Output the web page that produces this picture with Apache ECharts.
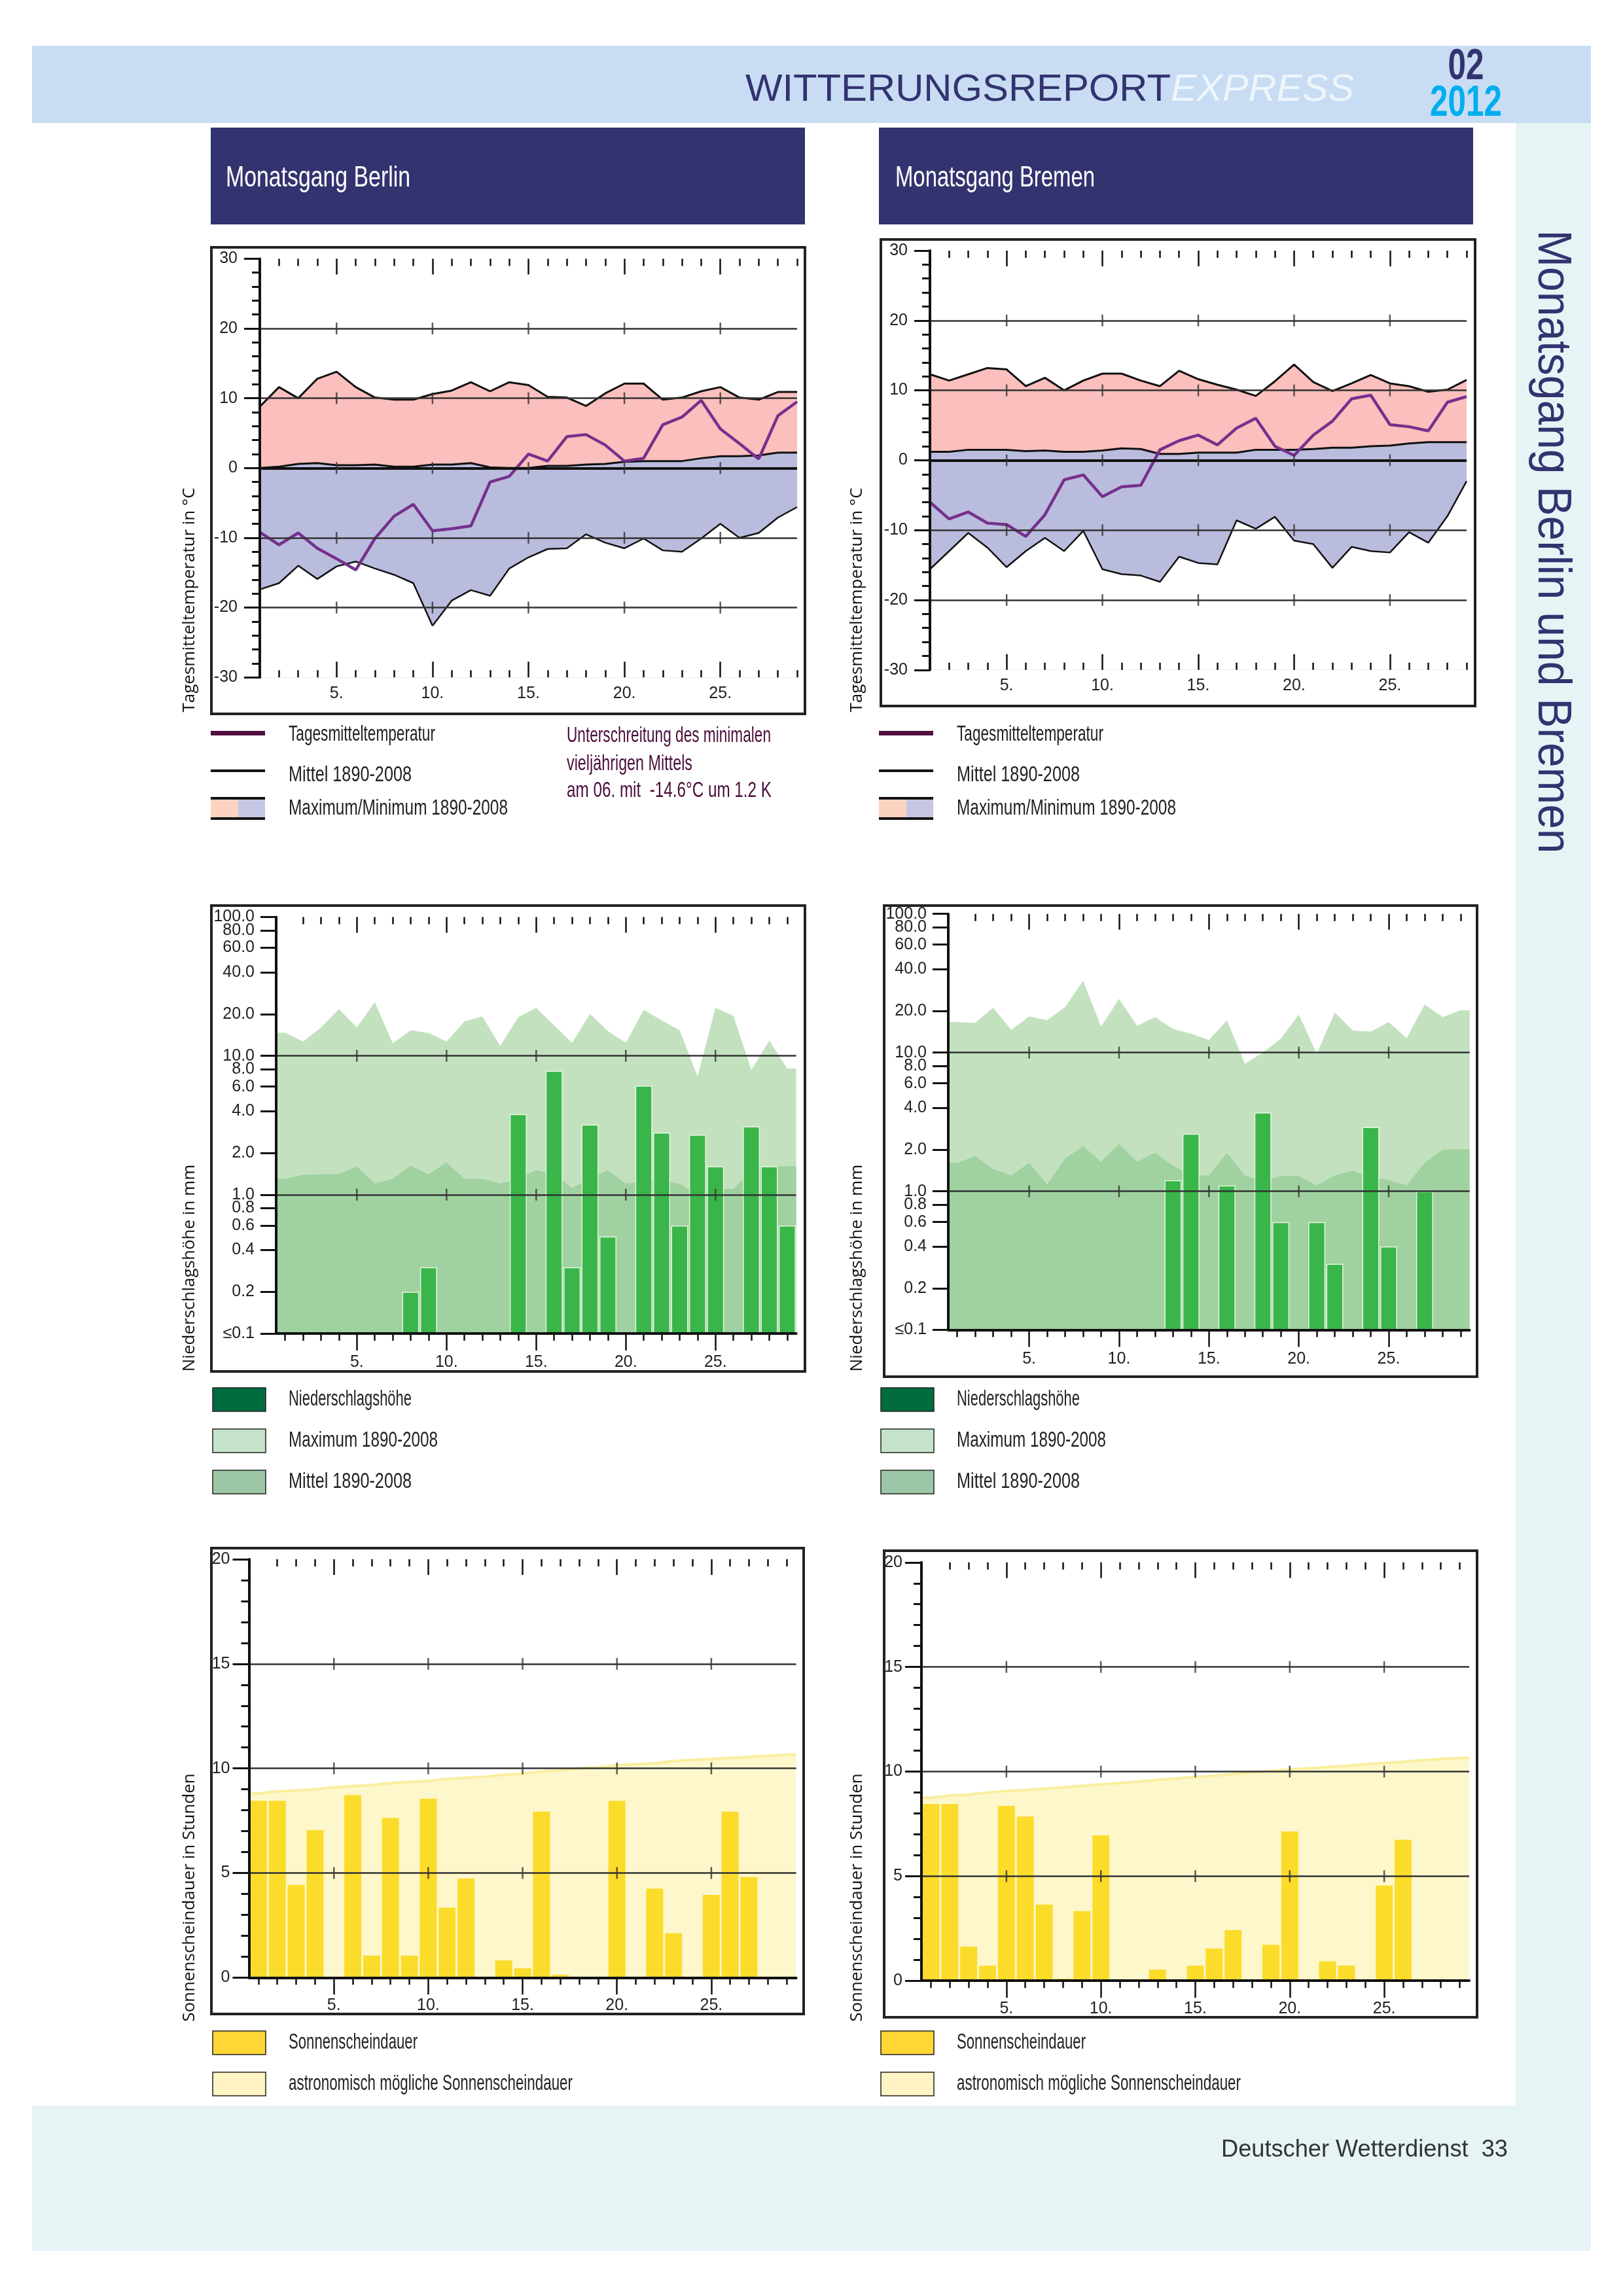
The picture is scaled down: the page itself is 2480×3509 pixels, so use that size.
<!DOCTYPE html>
<html>
<head>
<meta charset="utf-8">
<title>Witterungsreport Express 02/2012</title>
<script src="https://cdn.jsdelivr.net/npm/echarts@6/dist/echarts.min.js"></script>
<style>
html, body { margin: 0; padding: 0; background: #fff; }
#main { width: 2480px; height: 3509px; }
</style>
</head>
<body>
<div id="main"></div>
<script>
// Tageswerte Februar 2012, Tag 1 bis 29
var days = [1,2,3,4,5,6,7,8,9,10,11,12,13,14,15,16,17,18,19,20,21,22,23,24,25,26,27,28,29];
var fiveDays = [5,10,15,20,25];

// Berlin Temperatur
var berlinTempMax = [8.8,11.6,10,12.8,13.8,11.6,10.1,9.8,9.8,10.6,11.1,12.3,11,12.3,11.9,10.2,10.1,8.9,10.7,12.1,12.1,9.8,10.1,11,11.6,10.1,9.8,10.9,10.9];
var berlinTempMean = [0,0.2,0.6,0.7,0.4,0.4,0.5,0.2,0.2,0.5,0.5,0.7,0.1,0,0,0.3,0.3,0.5,0.6,0.9,1,1,1,1.4,1.7,1.7,1.8,2.2,2.2];
var berlinTempMin = [-17.4,-16.5,-14,-15.9,-14.1,-13.4,-14.4,-15.3,-16.5,-22.6,-19,-17.5,-18.3,-14.4,-12.8,-11.6,-11.5,-9.5,-10.7,-11.5,-10.1,-11.8,-12,-10.1,-8,-10,-9.3,-7.1,-5.6];
var berlinTempDay = [-9.2,-11,-9.3,-11.5,-13,-14.6,-10.1,-6.9,-5.2,-9,-8.7,-8.3,-2,-1.2,2,1,4.5,4.8,3.3,1,1.4,6.2,7.3,9.7,5.6,3.5,1.3,7.5,9.5];

// Bremen Temperatur
var bremenTempMax = [12.3,11.4,12.3,13.2,13,10.6,11.8,10,11.4,12.4,12.4,11.4,10.6,12.8,11.6,10.8,10.1,9.2,11.3,13.7,11.2,9.9,11,12.2,11,10.6,9.8,10.1,11.5];
var bremenTempMean = [1.2,1.2,1.5,1.5,1.5,1.3,1.4,1.2,1.2,1.4,1.7,1.6,0.9,0.9,1.1,1.1,1.1,1.5,1.5,1.5,1.6,1.8,1.8,2,2.1,2.4,2.6,2.6,2.6];
var bremenTempMin = [-15.6,-13,-10.4,-12.5,-15.3,-13,-11.1,-13,-10.1,-15.6,-16.3,-16.5,-17.4,-13.8,-14.7,-14.9,-8.6,-9.8,-8.1,-11.5,-12,-15.4,-12.4,-13,-13.2,-10.3,-11.8,-8,-3];
var bremenTempDay = [-6,-8.4,-7.4,-9,-9.2,-10.9,-7.8,-2.8,-2.1,-5.2,-3.8,-3.6,1.5,2.8,3.6,2.2,4.6,6,2,0.7,3.6,5.6,8.8,9.3,5.1,4.8,4.2,8.3,9.1];

// Niederschlag
var berlinRainMax = [14.7,12.7,16,21.7,16,24.3,12.3,15.3,14.6,12.7,17.7,19.2,11.8,19,22.1,16.6,12.4,20,15.1,12.4,21.5,18,15.3,7.1,22.2,19.4,7.9,12.9,8.1];
var berlinRainMean = [1.3,1.39,1.4,1.4,1.6,1.2,1.3,1.62,1.4,1.71,1.3,1.3,1.2,1.3,1.5,1.4,1.12,1.3,1.5,1.2,1.25,1.25,1.2,1,1.1,1.1,1.5,1.6,1.6];
var berlinRain = [null,null,null,null,null,null,null,0.2,0.3,null,null,null,null,3.8,null,7.8,0.3,3.2,0.5,null,6.1,2.8,0.6,2.7,1.6,null,3.1,1.6,0.6];
var bremenRainMax = [16.6,16.4,21,14.6,18.2,17.1,21.3,32.9,15.4,24.4,15.6,18,14.8,13.7,12.3,17.1,8.3,10,12.6,18.8,9.8,19.5,14.4,14.2,16.6,12.7,22.2,18,20.2];
var bremenRainMean = [1.6,1.79,1.45,1.3,1.6,1.12,1.72,2.12,1.63,2.2,1.63,1.89,1.53,1.3,1.3,1.89,1.3,1.18,1.29,1.29,1.1,1.3,1.41,1.27,1.2,1.1,1.6,2,2];
var bremenRain = [null,null,null,null,null,null,null,null,null,null,null,null,1.2,2.6,null,1.1,null,3.7,0.6,null,0.6,0.3,null,2.9,0.4,null,1,null,null];
var rainTicks = [0.1,0.2,0.4,0.6,0.8,1,2,4,6,8,10,20,40,60,80];
var rainTopTick = [100];

// Sonnenschein
var berlinSunAstro = [8.8,8.9,8.95,9.0,9.1,9.15,9.2,9.3,9.35,9.4,9.5,9.55,9.6,9.7,9.75,9.85,9.9,10,10.05,10.15,10.2,10.25,10.35,10.4,10.45,10.5,10.55,10.6,10.65];
var berlinSun = [8.45,8.45,4.43,7.05,0,8.72,1.05,7.63,1.05,8.55,3.34,4.73,0,0.82,0.44,7.93,0.13,0,0,8.45,0,4.25,2.12,0,3.95,7.93,4.8,0,0];
var bremenSunAstro = [8.75,8.85,8.9,9.0,9.08,9.12,9.18,9.25,9.32,9.39,9.45,9.52,9.6,9.67,9.74,9.8,9.88,9.95,10.03,10.1,10.16,10.22,10.28,10.35,10.41,10.47,10.54,10.6,10.65];
var bremenSun = [8.45,8.45,1.63,0.72,8.36,7.85,3.64,0.1,3.33,6.95,0,0,0.53,0,0.72,1.54,2.42,0,1.72,7.14,0,0.93,0.73,0,4.55,6.74,0,0,0];

var sans = '"Liberation Sans"';
var grids = [], xAxes = [], yAxes = [], extraYAxes = [], seriesList = [], graphics = [];
var measureCtx = document.createElement('canvas').getContext('2d');

function addRect(x, y, w, h, fill, stroke, lineWidth) {
	graphics.push({
		type: 'rect', silent: true,
		shape: { x: x, y: y, width: w, height: h },
		style: { fill: fill, stroke: stroke || null, lineWidth: lineWidth || 0 }
	});
}

// width: Zielbreite, die Schrift des Originals ist schmaler als alle installierten
function addText(x, y, text, font, color, width, rot, align) {
	measureCtx.font = font;
	graphics.push({
		type: 'text', silent: true,
		x: x, y: y, rotation: rot || 0,
		scaleX: width ? width / measureCtx.measureText(text).width : 1,
		style: { text: text, x: 0, y: 0, font: font, fill: color, align: align || 'left', verticalAlign: 'middle' }
	});
}

function pairs(values) {
	return days.map(function(d, i) { return [d, values[i]]; });
}

// Flaeche reicht bis an den Rand des Diagramms (Tag 0.5 und 29.5)
function edgePairs(values) {
	return [[0.5, values[0]]].concat(pairs(values), [[29.5, values[values.length - 1]]]);
}

// Kreuzmarken auf den Gitterlinien
function crossPairs(levels) {
	var out = [];
	levels.forEach(function(l) {
		fiveDays.forEach(function(d) { out.push([d, l]); });
	});
	return out;
}

// Ein Gitter mit den vier Zeitachsen oben und unten
function addGrid(g, xMin, xMax, bottomInside, showLine, labelMargin) {
	var gi = grids.length;
	grids.push({ left: g.x0, top: g.yTop, width: g.x1 - g.x0, height: g.yBottom - g.yTop, containLabel: false });
	var base = { type: 'value', gridIndex: gi, min: xMin, max: xMax, splitLine: { show: false }, z: 6 };
	var tickStyle = { color: '#111', width: 2.5 };
	var smallDays = days.filter(function(d) { return fiveDays.indexOf(d) < 0 && d > 1; });
	var firstX = xAxes.length;
	xAxes.push(Object.assign({}, base, {
		position: 'bottom',
		axisLine: { show: showLine, onZero: false, lineStyle: { color: '#111', width: 4 } },
		axisTick: { show: true, inside: bottomInside, length: 11, customValues: bottomInside ? smallDays : days, lineStyle: tickStyle },
		axisLabel: { show: false }
	}));
	xAxes.push(Object.assign({}, base, {
		position: 'bottom',
		axisLine: { show: false, onZero: false },
		axisTick: { show: true, inside: bottomInside, length: bottomInside ? 24 : 26, customValues: fiveDays, lineStyle: tickStyle },
		axisLabel: {
			show: true, customValues: fiveDays, margin: labelMargin,
			fontFamily: sans, fontSize: 25, color: '#222',
			formatter: function(v) { return v + '.'; }
		}
	}));
	xAxes.push(Object.assign({}, base, {
		position: 'top',
		axisLine: { show: false, onZero: false },
		axisTick: { show: true, inside: true, length: 11, customValues: smallDays, lineStyle: tickStyle },
		axisLabel: { show: false }
	}));
	xAxes.push(Object.assign({}, base, {
		position: 'top',
		axisLine: { show: false, onZero: false },
		axisTick: { show: true, inside: true, length: 24, customValues: fiveDays, lineStyle: tickStyle },
		axisLabel: { show: false }
	}));
	return { gridIndex: gi, xIndex: firstX };
}

function levelLines(levels, heavy) {
	return {
		silent: true, symbol: 'none', animation: false, label: { show: false },
		lineStyle: { color: '#333', width: 2.5, type: 'solid' },
		data: levels.map(function(l) {
			return l === heavy ? { yAxis: l, lineStyle: { color: '#111', width: 4, type: 'solid' } } : { yAxis: l };
		})
	};
}

function crossSeries(ax, levels) {
	return {
		type: 'scatter', xAxisIndex: ax.xIndex, yAxisIndex: ax.gridIndex, silent: true,
		symbol: 'rect', symbolSize: [2.5, 18], itemStyle: { color: '#333' },
		data: crossPairs(levels), z: 5
	};
}

function areaLine(ax, name, data, lineColor, lineWidth, fill) {
	return {
		name: name, type: 'line', xAxisIndex: ax.xIndex, yAxisIndex: ax.gridIndex,
		showSymbol: false, symbol: 'none', data: data, silent: true,
		lineStyle: lineColor ? { color: lineColor, width: lineWidth } : { width: 0 },
		areaStyle: { color: fill, opacity: 1, origin: 'start' }
	};
}

function axisLabelStyle(margin) {
	return { margin: margin, fontFamily: sans, fontSize: 25, color: '#222' };
}

function addTempChart(g, maxV, meanV, minV, dayV) {
	var ax = addGrid(g, 1, 29, true, false, 12);
	yAxes.push({
		type: 'value', gridIndex: ax.gridIndex, min: -30, max: 30, interval: 10, z: 6,
		axisLine: { show: true, onZero: false, lineStyle: { color: '#111', width: 4 } },
		axisTick: { show: true, length: 24, lineStyle: { color: '#111', width: 3 } },
		minorTick: { show: true, splitNumber: 5, length: 12, lineStyle: { color: '#111', width: 3 } },
		splitLine: { show: false },
		axisLabel: axisLabelStyle(34)
	});
	seriesList.push(areaLine(ax, 'Maximum 1890-2008', pairs(maxV), '#111', 3, '#fbbfbd'));
	seriesList.push(areaLine(ax, 'Mittel 1890-2008', pairs(meanV), '#111', 3, '#babcdd'));
	seriesList.push(areaLine(ax, 'Minimum 1890-2008', pairs(minV), '#111', 2.5, '#ffffff'));
	seriesList.push({
		name: 'Tagesmitteltemperatur', type: 'line', xAxisIndex: ax.xIndex, yAxisIndex: ax.gridIndex,
		showSymbol: false, symbol: 'none', silent: true, data: pairs(dayV), z: 4,
		lineStyle: { color: '#76308c', width: 4.5 },
		markLine: levelLines([20, 10, 0, -10, -20], 0)
	});
	seriesList.push(crossSeries(ax, [20, 10, 0, -10, -20]));
}

function rainLabel(v) {
	return v <= 0.1 ? '≤0.1' : Number(v).toFixed(1);
}

function addRainChart(g, maxV, meanV, barV) {
	var ax = addGrid(g, 0.5, 29.5, false, true, 32);
	yAxes.push({
		type: 'log', gridIndex: ax.gridIndex, logBase: 10, min: 0.1, max: 100, startValue: 0.1, z: 6,
		position: 'left',
		axisLine: { show: true, onZero: false, lineStyle: { color: '#111', width: 4 } },
		axisTick: { show: true, length: 24, customValues: rainTicks, lineStyle: { color: '#111', width: 3 } },
		minorTick: { show: false }, splitLine: { show: false },
		axisLabel: Object.assign(axisLabelStyle(33), { customValues: rainTicks, formatter: rainLabel })
	});
	// 100.0 und 80.0 ueberlappen, auf einer Achse wuerde ECharts eins davon ausblenden
	extraYAxes.push({
		type: 'log', gridIndex: ax.gridIndex, logBase: 10, min: 0.1, max: 100, z: 6,
		position: 'left',
		axisLine: { show: false, onZero: false },
		axisTick: { show: true, length: 24, customValues: rainTopTick, lineStyle: { color: '#111', width: 3 } },
		minorTick: { show: false }, splitLine: { show: false },
		axisLabel: Object.assign(axisLabelStyle(33), { customValues: rainTopTick, formatter: rainLabel })
	});
	seriesList.push(areaLine(ax, 'Maximum 1890-2008', edgePairs(maxV), null, 0, '#c3e1bf'));
	seriesList.push(areaLine(ax, 'Mittel 1890-2008', edgePairs(meanV), null, 0, '#a0d1a0'));
	seriesList.push({
		name: 'Niederschlagshöhe', type: 'bar', xAxisIndex: ax.xIndex, yAxisIndex: ax.gridIndex, silent: true,
		barWidth: 26, data: pairs(barV).filter(function(p) { return p[1] !== null; }), z: 3,
		itemStyle: { color: '#39b54a', borderColor: '#e6f5dc', borderWidth: 1.5 },
		markLine: levelLines([10, 1], null)
	});
	seriesList.push(crossSeries(ax, [10, 1]));
}

function addSunChart(g, astroV, barV) {
	var ax = addGrid(g, 0.5, 29.5, false, true, 30);
	yAxes.push({
		type: 'value', gridIndex: ax.gridIndex, min: 0, max: 20, interval: 5, z: 6,
		axisLine: { show: true, onZero: false, lineStyle: { color: '#111', width: 4 } },
		axisTick: { show: true, length: 25, lineStyle: { color: '#111', width: 3 } },
		minorTick: { show: true, splitNumber: 5, length: 12, lineStyle: { color: '#111', width: 3 } },
		splitLine: { show: false },
		axisLabel: axisLabelStyle(29)
	});
	seriesList.push(areaLine(ax, 'astronomisch mögliche Sonnenscheindauer', edgePairs(astroV), '#f9ee9e', 4, '#fdf7cb'));
	seriesList.push({
		name: 'Sonnenscheindauer', type: 'bar', xAxisIndex: ax.xIndex, yAxisIndex: ax.gridIndex, silent: true,
		barWidth: 26, data: pairs(barV), z: 3,
		itemStyle: { color: '#fcdc2a' },
		markLine: levelLines([15, 10, 5], null)
	});
	seriesList.push(crossSeries(ax, [15, 10, 5]));
}

// Seitenrahmen
addRect(49, 70, 2382, 118, '#c8ddf3');
addRect(2316, 188, 115, 3030, '#e6f4f6');
addRect(49, 3218, 2382, 222, '#e6f4f6');
addText(1139, 138, 'WITTERUNGSREPORT', '57px ' + sans, '#33336f', 650);
addText(1789, 138, 'EXPRESS', 'italic 57px ' + sans, '#eef5fc', 280);
addText(2240, 103, '02', 'bold 66px ' + sans, '#33336f', 55, 0, 'center');
addText(2240, 159, '2012', 'bold 66px ' + sans, '#00aeef', 110, 0, 'center');
addText(2371, 828, 'Monatsgang Berlin und Bremen', '72px ' + sans, '#33336f', 953, -Math.PI / 2, 'center');
addText(2304, 3286, 'Deutscher Wetterdienst  33', '37px ' + sans, '#333', 438, 0, 'right');

addRect(322, 195, 908, 148, '#33336f');
addRect(1343, 195, 908, 148, '#33336f');
addText(345, 273, 'Monatsgang Berlin', '44px ' + sans, '#fff', 282);
addText(1368, 273, 'Monatsgang Bremen', '44px ' + sans, '#fff', 305);

// Rahmen der sechs Diagramme
addRect(323, 378, 907, 713, '#fff', '#222', 4);
addRect(1346, 366, 908, 713, '#fff', '#222', 4);
addRect(323, 1384, 907, 712, '#fff', '#222', 4);
addRect(1351, 1384, 906, 720, '#fff', '#222', 4);
addRect(323, 2366, 905, 712, '#fff', '#222', 4);
addRect(1351, 2370, 906, 713, '#fff', '#222', 4);

// Achsentitel
var titleFont = '26px "Open Sans"';
addText(290, 917, 'Tagesmitteltemperatur in °C', titleFont, '#111', 0, Math.PI / 2, 'center');
addText(1310, 917, 'Tagesmitteltemperatur in °C', titleFont, '#111', 0, Math.PI / 2, 'center');
addText(290, 1938, 'Niederschlagshöhe in mm', titleFont, '#111', 0, Math.PI / 2, 'center');
addText(1310, 1938, 'Niederschlagshöhe in mm', titleFont, '#111', 0, Math.PI / 2, 'center');
addText(290, 2900, 'Sonnenscheindauer in Stunden', titleFont, '#111', 0, Math.PI / 2, 'center');
addText(1310, 2900, 'Sonnenscheindauer in Stunden', titleFont, '#111', 0, Math.PI / 2, 'center');

// Legenden
var legendFont = '33px ' + sans;
[0, 1021].forEach(function(dx) {
	addRect(322 + dx, 1117, 83, 7, '#520f3f');
	addText(441 + dx, 1123, 'Tagesmitteltemperatur', legendFont, '#222', 224);
	addRect(322 + dx, 1176, 83, 4, '#111');
	addText(441 + dx, 1185, 'Mittel 1890-2008', legendFont, '#222', 188);
	addRect(322 + dx, 1218, 42, 35, '#fcd3c1');
	addRect(364 + dx, 1218, 41, 35, '#c5c6e3');
	addRect(322 + dx, 1218, 83, 4, '#111');
	addRect(322 + dx, 1249, 83, 4, '#111');
	addText(441 + dx, 1236, 'Maximum/Minimum 1890-2008', legendFont, '#222', 335);

	addRect(325 + dx, 2121, 81, 36, '#006b3f', '#222', 1.5);
	addText(441 + dx, 2139, 'Niederschlagshöhe', legendFont, '#222', 188);
	addRect(325 + dx, 2184, 81, 36, '#c5e3c9', '#222', 1.5);
	addText(441 + dx, 2202, 'Maximum 1890-2008', legendFont, '#222', 228);
	addRect(325 + dx, 2247, 81, 36, '#9cc6a5', '#222', 1.5);
	addText(441 + dx, 2265, 'Mittel 1890-2008', legendFont, '#222', 188);

	addRect(325 + dx, 3104, 81, 36, '#ffd633', '#222', 1.5);
	addText(441 + dx, 3122, 'Sonnenscheindauer', legendFont, '#222', 197);
	addRect(325 + dx, 3167, 81, 36, '#fff3c4', '#222', 1.5);
	addText(441 + dx, 3185, 'astronomisch mögliche Sonnenscheindauer', legendFont, '#222', 434);
});
var noteColor = '#4a0d3a';
addText(866, 1125, 'Unterschreitung des minimalen', legendFont, noteColor, 312);
addText(866, 1168, 'vieljährigen Mittels', legendFont, noteColor, 192);
addText(866, 1209, 'am 06. mit  -14.6°C um 1.2 K', legendFont, noteColor, 313);

addTempChart({ x0: 397, x1: 1218, yTop: 395.4, yBottom: 1035.2 }, berlinTempMax, berlinTempMean, berlinTempMin, berlinTempDay);
addTempChart({ x0: 1421, x1: 2241, yTop: 383, yBottom: 1023.8 }, bremenTempMax, bremenTempMean, bremenTempMin, bremenTempDay);
addRainChart({ x0: 422, x1: 1216.6, yTop: 1401.5, yBottom: 2038 }, berlinRainMax, berlinRainMean, berlinRain);
addRainChart({ x0: 1449, x1: 2245.6, yTop: 1396.7, yBottom: 2032.6 }, bremenRainMax, bremenRainMean, bremenRain);
addSunChart({ x0: 380.5, x1: 1216.6, yTop: 2383, yBottom: 3022.3 }, berlinSunAstro, berlinSun);
addSunChart({ x0: 1408, x1: 2245, yTop: 2387.8, yBottom: 3027.2 }, bremenSunAstro, bremenSun);

var myChart = echarts.init(document.getElementById('main'));
myChart.setOption({
	animation: false,
	backgroundColor: '#ffffff',
	textStyle: { fontFamily: sans },
	graphic: { elements: graphics },
	grid: grids,
	xAxis: xAxes,
	yAxis: yAxes.concat(extraYAxes),
	series: seriesList
});
</script>
</body>
</html>
